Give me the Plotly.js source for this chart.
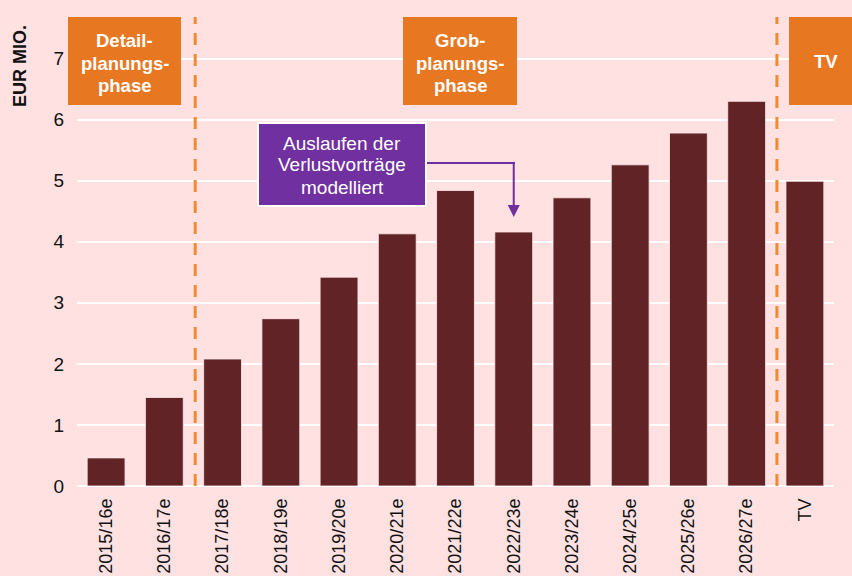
<!DOCTYPE html>
<html>
<head>
<meta charset="utf-8">
<script src="https://cdn.plot.ly/plotly-3.0.1.min.js"></script>
<style>html,body{margin:0;padding:0;background:#FFE1E1;}#chart{width:852px;height:576px;}</style>
</head>
<body>
<div id="chart"></div>
<script>
const categories = ["2015/16e","2016/17e","2017/18e","2018/19e","2019/20e","2020/21e","2021/22e","2022/23e","2023/24e","2024/25e","2025/26e","2026/27e","TV"];
const values = [0.46, 1.45, 2.08, 2.74, 3.42, 4.13, 4.84, 4.16, 4.72, 5.26, 5.78, 6.30, 4.99];
const yTicks = [0,1,2,3,4,5,6,7];
const phaseLabels = [["Detail-","planungs-","phase"],["Grob-","planungs-","phase"],["TV"]];
const noteLines = ["Auslaufen der","Verlustvorträge","modelliert"];
const yTitle = "EUR MIO.";

const W = 852, H = 576;
const M = {l:77, r:18, t:17, b:90};
const pw = W - M.l - M.r, ph = H - M.t - M.b;
const px = x => (x - M.l) / pw;
const py = y => (H - M.b - y) / ph;

const FONT = "Arial, 'Liberation Sans', sans-serif";
const ORANGE = "#E87722";
const PURPLE = "#7030A0";

const shapes = [];
const annotations = [];

// dashed phase separators
[1.53, 11.52].forEach(xv => shapes.push({type:'line', xref:'x', yref:'paper', x0:xv, x1:xv, y0:0, y1:1,
  line:{color:'#F28A30', width:3, dash:'12px,9px'}, layer:'above'}));

// orange phase boxes
const boxes = [[68,181],[403,517],[789,852]];
boxes.forEach((b,i) => {
  shapes.push({type:'rect', xref:'paper', yref:'paper', x0:px(b[0]), x1:px(b[1]), y0:py(105), y1:py(17),
    fillcolor:ORANGE, line:{width:0}, layer:'above'});
});
const boxCenters = [124.5, 460, 825.5];
phaseLabels.forEach((lines,i) => {
  const ys = lines.length === 3 ? [41,63,85] : [62];
  lines.forEach((t,j) => annotations.push({xref:'paper', yref:'paper', x:px(boxCenters[i]), y:py(ys[j]),
    text:'<b>'+t+'</b>', showarrow:false, xanchor:'center', yanchor:'middle',
    font:{family:FONT, size:18.5, color:'#FFFFFF'}}));
});

// purple note box
shapes.push({type:'rect', xref:'paper', yref:'paper', x0:px(258), x1:px(426), y0:py(206), y1:py(123),
  fillcolor:PURPLE, line:{color:'#FFFFFF', width:2}, layer:'above'});
[143,165,187].forEach((yy,j) => annotations.push({xref:'paper', yref:'paper', x:px(342), y:py(yy),
  text:noteLines[j], showarrow:false, xanchor:'center', yanchor:'middle',
  font:{family:FONT, size:19, color:'#FFFFFF'}}));
// connector
shapes.push({type:'line', xref:'paper', yref:'paper', x0:px(427), x1:px(515), y0:py(163), y1:py(163),
  line:{color:PURPLE, width:2}, layer:'above'});
annotations.push({xref:'x', yref:'paper', x:7, y:py(217), ax:0, ay:-55, axref:'pixel', ayref:'pixel',
  text:'', showarrow:true, arrowhead:2, arrowsize:1.2, arrowwidth:2, arrowcolor:PURPLE});

// y-axis title
annotations.push({xref:'paper', yref:'paper', x:px(20), y:py(66), text:'<b>'+yTitle+'</b>', textangle:-90,
  showarrow:false, xanchor:'center', yanchor:'middle', font:{family:FONT, size:18, color:'#111111'}});

const trace = {type:'bar', x:categories, y:values,
  marker:{color:'#622326', line:{color:'rgba(255,235,235,0.8)', width:1}}, hoverinfo:'skip'};

const layout = {
  width:W, height:H, margin:M,
  paper_bgcolor:'#FFE1E1', plot_bgcolor:'#FFE1E1',
  showlegend:false, bargap:0.35,
  font:{family:FONT, color:'#111111'},
  xaxis:{type:'category', tickangle:-90, tickfont:{family:FONT, size:18, color:'#111111'},
    showgrid:false, showline:false, zeroline:false, ticks:'', automargin:false, ticklabelstandoff:8,
    range:[-0.5, categories.length-0.5]},
  yaxis:{range:[0, 469/61.06], tickvals:yTicks, ticktext:yTicks.map(String),
    tickfont:{family:FONT, size:19, color:'#111111'}, showgrid:true, gridcolor:'#FFFFFF', gridwidth:2,
    zeroline:true, zerolinecolor:'#FFFFFF', zerolinewidth:2, showline:false, ticks:'', automargin:false,
    ticklabelstandoff:12},
  shapes:shapes, annotations:annotations
};
Plotly.newPlot('chart', [trace], layout, {staticPlot:true, displayModeBar:false});
</script>
</body>
</html>
